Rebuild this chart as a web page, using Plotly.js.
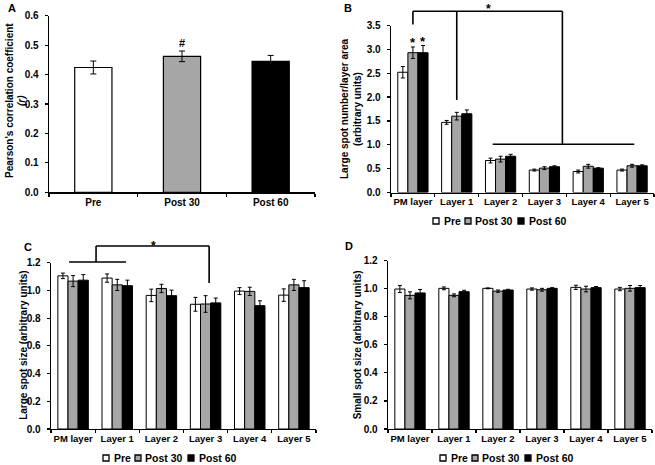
<!DOCTYPE html>
<html><head><meta charset="utf-8">
<script src="https://cdn.plot.ly/plotly-3.0.1.min.js"></script>
<style>html,body{margin:0;padding:0;background:#fff}#chart{width:655px;height:465px}</style>
</head><body><div id="chart"></div>
<script>
// ---------- data ----------
const conditions = ['Pre', 'Post 30', 'Post 60'];
const layers = ['PM layer', 'Layer 1', 'Layer 2', 'Layer 3', 'Layer 4', 'Layer 5'];

// Panel A: Pearson's r
const pearsonR = [0.424, 0.462, 0.445];
const pearsonErr = [0.022, 0.018, 0.020];

// Panel B: large spot number / layer area
const spotNumPre = [2.52, 1.47, 0.67, 0.47, 0.44, 0.47];
const spotNumPreErr = [0.12, 0.04, 0.05, 0.02, 0.03, 0.02];
const spotNumPost30 = [2.93, 1.60, 0.70, 0.51, 0.55, 0.56];
const spotNumPost30Err = [0.12, 0.08, 0.06, 0.03, 0.04, 0.03];
const spotNumPost60 = [2.93, 1.65, 0.76, 0.54, 0.51, 0.56];
const spotNumPost60Err = [0.15, 0.08, 0.04, 0.02, 0.01, 0.02];

// Panel C: large spot size
const largeSizePre = [1.105, 1.089, 0.964, 0.900, 0.995, 0.966];
const largeSizePreErr = [0.020, 0.030, 0.045, 0.050, 0.025, 0.045];
const largeSizePost30 = [1.067, 1.040, 1.014, 0.902, 0.993, 1.040];
const largeSizePost30Err = [0.040, 0.040, 0.030, 0.060, 0.030, 0.040];
const largeSizePost60 = [1.074, 1.034, 0.962, 0.910, 0.890, 1.020];
const largeSizePost60Err = [0.040, 0.040, 0.040, 0.035, 0.035, 0.050];

// Panel D: small spot size
const smallSizePre = [0.998, 1.003, 1.003, 0.998, 1.010, 0.998];
const smallSizePreErr = [0.025, 0.010, 0.003, 0.008, 0.015, 0.012];
const smallSizePost30 = [0.953, 0.953, 0.983, 0.993, 0.998, 1.003];
const smallSizePost30Err = [0.025, 0.010, 0.008, 0.010, 0.020, 0.020];
const smallSizePost60 = [0.970, 0.979, 0.991, 1.003, 1.008, 1.008];
const smallSizePost60Err = [0.025, 0.010, 0.005, 0.005, 0.008, 0.015];

// ---------- styling ----------
const FONT = 'Liberation Sans, Arial, sans-serif';
const fills = ['#ffffff', '#a6a6a6', '#000000'];
const W = 655, H = 465;
const px = x => x / W;
const py = y => 1 - y / H;

const domA = {x: [px(49), px(315)], y: [py(192.3), py(15.7)], r: [0, 0.6]};
const domB = {x: [px(391), px(654)], y: [py(192.5), py(25.5)], r: [0, 3.5]};
const domC = {x: [px(51), px(316)], y: [py(429), py(262.7)], r: [0, 1.2]};
const domD = {x: [px(388), px(652)], y: [py(429), py(260.7)], r: [0, 1.2]};
const paperY = (v, d) => d.y[0] + (v - d.r[0]) / (d.r[1] - d.r[0]) * (d.y[1] - d.y[0]);

function errBar(arr, w) {
  return {type: 'data', array: arr, visible: true, color: '#000', thickness: 1, width: w};
}
function groupTraces(xa, ya, series, errs) {
  return series.map((vals, i) => ({
    type: 'bar', x: layers, y: vals, name: conditions[i], xaxis: xa, yaxis: ya,
    marker: {color: fills[i], line: {color: '#000', width: 1}},
    error_y: errBar(errs[i], 2), showlegend: false, hoverinfo: 'x+y'
  }));
}

const traces = [
  {type: 'bar', x: conditions, y: pearsonR, xaxis: 'x', yaxis: 'y', width: 0.42,
   marker: {color: fills, line: {color: '#000', width: 1.2}},
   error_y: errBar(pearsonErr, 3), showlegend: false},
  ...groupTraces('x2', 'y2', [spotNumPre, spotNumPost30, spotNumPost60],
                 [spotNumPreErr, spotNumPost30Err, spotNumPost60Err]),
  ...groupTraces('x3', 'y3', [largeSizePre, largeSizePost30, largeSizePost60],
                 [largeSizePreErr, largeSizePost30Err, largeSizePost60Err]),
  ...groupTraces('x4', 'y4', [smallSizePre, smallSizePost30, smallSizePost60],
                 [smallSizePreErr, smallSizePost30Err, smallSizePost60Err])
];

const tickFont = (s) => ({family: FONT, size: s, color: '#000', weight: 'bold'});
function xAxis(d, anchor, fs) {
  return {domain: d.x, anchor: anchor, type: 'category', showline: true, linecolor: '#000',
    linewidth: 1.3, ticks: 'outside', tickson: 'boundaries', ticklen: 3, tickcolor: '#000',
    tickwidth: 1.2, tickfont: tickFont(fs), tickangle: 0, showgrid: false, zeroline: false,
    fixedrange: true};
}
function yAxis(d, anchor, dtick, title, standoff) {
  const ax = {domain: d.y, anchor: anchor, range: d.r, dtick: dtick, tickformat: '.1f',
    showline: true, linecolor: '#000', linewidth: 1.3, ticks: 'outside', ticklen: 3,
    tickcolor: '#000', tickwidth: 1.2, tickfont: tickFont(10), ticklabelstandoff: 4,
    showgrid: false, zeroline: false, fixedrange: true};
  if (title) ax.title = {text: title, font: {family: FONT, size: 10, color: '#000', weight: 'bold'},
                         standoff: standoff};
  return ax;
}

const lineStyle = {color: '#000', width: 1.6};
function seg(xref, d, x0, v0, x1, v1) {
  return {type: 'line', xref: xref, yref: 'paper', x0: x0, x1: x1,
          y0: paperY(v0, d), y1: paperY(v1, d), line: lineStyle};
}
const shapes = [
  // Panel B bracket
  seg('x2', domB, 0, 3.52, 0, 3.80),
  seg('x2', domB, 0, 3.80, 3.41, 3.80),
  seg('x2', domB, 1, 3.80, 1, 1.94),
  seg('x2', domB, 3.41, 3.80, 3.41, 1.01),
  seg('x2', domB, 1.82, 1.01, 5.05, 1.01),
  // Panel C bracket
  seg('x3', domC, -0.09, 1.205, 1.2, 1.205),
  seg('x3', domC, 0.52, 1.205, 0.52, 1.32),
  seg('x3', domC, 0.52, 1.32, 3.08, 1.32),
  seg('x3', domC, 3.08, 1.32, 3.08, 1.053)
];

const annFont = (s) => ({family: FONT, size: s, color: '#000', weight: 'bold'});
const titleFont = {family: FONT, size: 10, color: '#000', weight: 'bold'};
const mid = {xanchor: 'center', yanchor: 'middle', xref: 'paper', yref: 'paper', showarrow: false};
const annotations = [
  {...mid, text: 'A', x: px(12), y: py(8), font: annFont(11)},
  {...mid, text: 'B', x: px(348), y: py(8), font: annFont(11)},
  {...mid, text: 'C', x: px(28), y: py(247), font: annFont(11)},
  {...mid, text: 'D', x: px(349), y: py(246), font: annFont(11)},
  // y titles for panels A and C
  {...mid, text: "Pearson's correlation coefficient", textangle: -90, x: px(10),
   y: py(101), font: titleFont},
  {...mid, text: '(r)', textangle: -90, x: px(22),
   y: py(101), font: {...titleFont, style: 'italic'}},
  {...mid, text: 'Large spot size (arbitrary units)', textangle: -90, x: px(24),
   y: 0.5 * (domC.y[0] + domC.y[1]), font: titleFont},
  // significance marks
  {text: '#', x: 'Post 30', xref: 'x', y: pearsonR[1] + pearsonErr[1], yref: 'y', yanchor: 'bottom',
   showarrow: false, font: annFont(11)},
  {text: '*', x: 1.73, xref: 'x2', y: paperY(3.80, domB), yref: 'paper', yanchor: 'middle', yshift: 2,
   showarrow: false, font: annFont(12)},
  {text: '*', x: 'PM layer', xref: 'x2', y: spotNumPost30[0] + spotNumPost30Err[0], yref: 'y2',
   yanchor: 'bottom', yshift: -5, showarrow: false, font: annFont(13)},
  {text: '*', x: 'PM layer', xref: 'x2', xshift: 10, y: spotNumPost60[0] + spotNumPost60Err[0], yref: 'y2',
   yanchor: 'bottom', yshift: -5, showarrow: false, font: annFont(13)},
  {text: '*', x: 1.83, xref: 'x3', y: paperY(1.32, domC), yref: 'paper', yanchor: 'middle', yshift: 0,
   showarrow: false, font: annFont(12)}
];

// custom compact legends (B, C, D)
const legendOffsets = {sq: [0, 32, 85], txt: [9, 40, 94]};
function addLegend(x0, yc) {
  conditions.forEach((c, i) => {
    const sx = x0 + legendOffsets.sq[i];
    shapes.push({type: 'rect', xref: 'paper', yref: 'paper', x0: px(sx), x1: px(sx + 6),
      y0: py(yc + 3), y1: py(yc - 3), fillcolor: fills[i], line: {color: '#000', width: 1.3}});
    annotations.push({text: c, x: px(x0 + legendOffsets.txt[i]), y: py(yc), xref: 'paper', yref: 'paper',
      xanchor: 'left', yanchor: 'middle', showarrow: false, font: annFont(10.5)});
  });
}
addLegend(433, 221);
addLegend(103, 458);
addLegend(440, 458);

const layout = {
  width: W, height: H, margin: {l: 0, r: 0, t: 0, b: 0},
  paper_bgcolor: '#fff', plot_bgcolor: 'rgba(0,0,0,0)',
  font: {family: FONT, size: 10, color: '#000', weight: 'bold'},
  showlegend: false, barmode: 'group', bargap: 0.31, bargroupgap: 0,
  xaxis: xAxis(domA, 'y', 10),
  yaxis: yAxis(domA, 'x', 0.1, null),
  xaxis2: xAxis(domB, 'y2', 9.5),
  yaxis2: yAxis(domB, 'x2', 0.5, 'Large spot number/layer area<br>(arbitrary units)', 3),
  xaxis3: xAxis(domC, 'y3', 9.5),
  yaxis3: yAxis(domC, 'x3', 0.2, null),
  xaxis4: xAxis(domD, 'y4', 9.5),
  yaxis4: yAxis(domD, 'x4', 0.2, 'Small spot size (arbitrary units)', 0),
  shapes: shapes, annotations: annotations
};

Plotly.newPlot('chart', traces, layout, {displayModeBar: false, staticPlot: true});
</script></body></html>
